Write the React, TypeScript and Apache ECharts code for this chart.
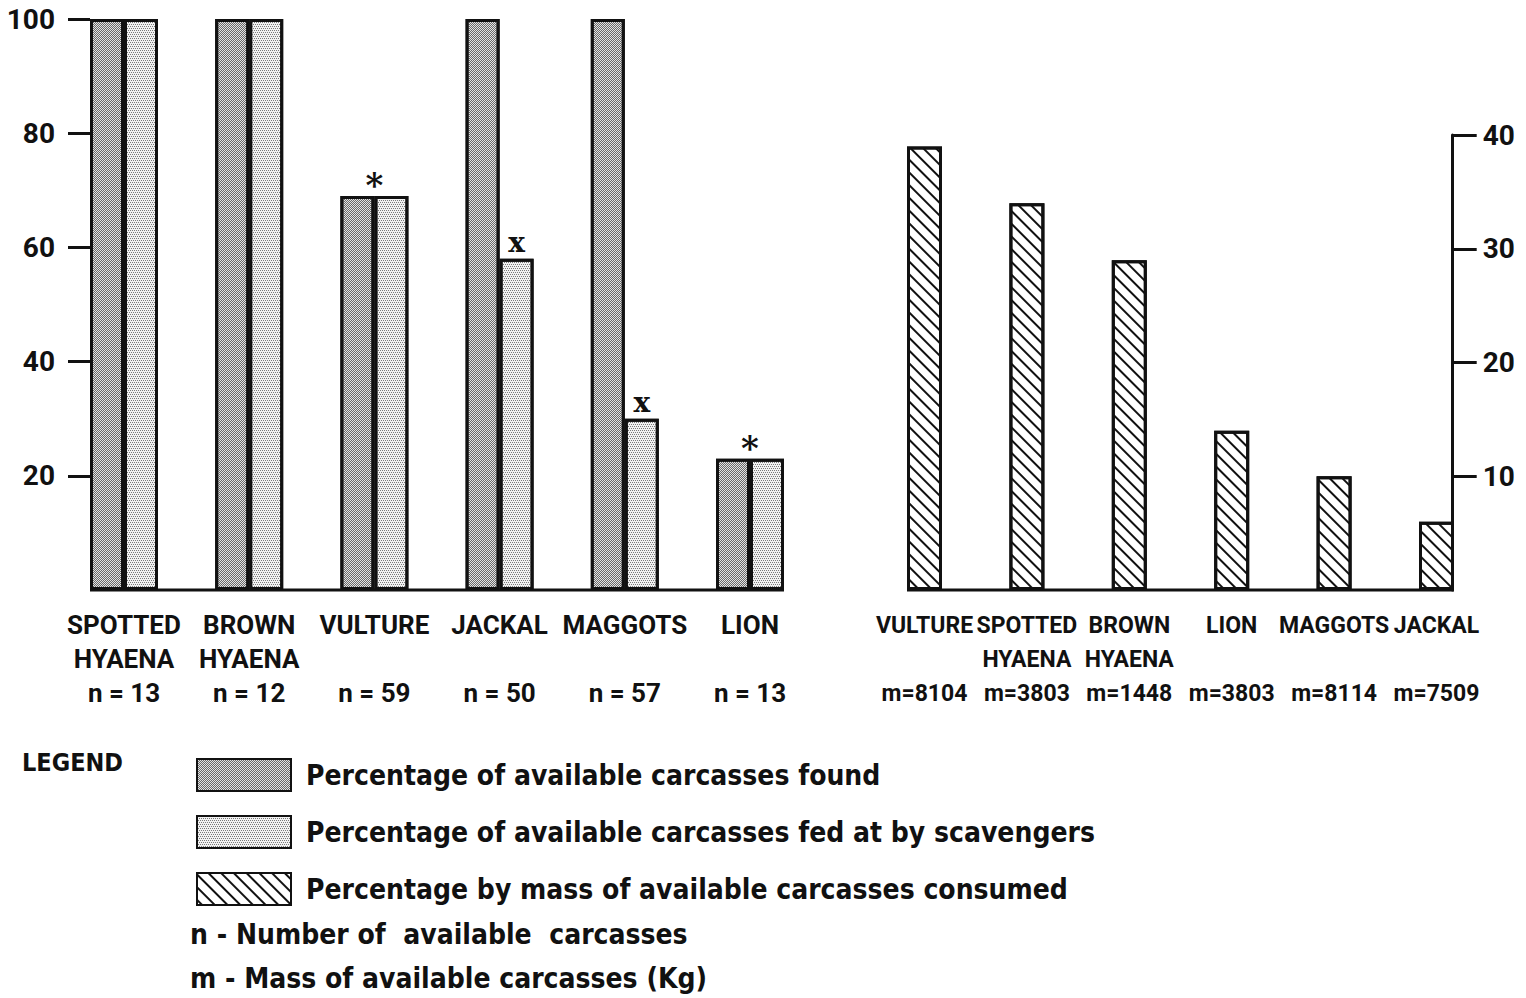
import React, { useEffect, useRef } from "react";
import * as echarts from "echarts";

// ---------- data ----------
const leftCategories = ["SPOTTED\nHYAENA", "BROWN\nHYAENA", "VULTURE", "JACKAL", "MAGGOTS", "LION"];
const leftN = [13, 12, 59, 50, 57, 13];
const foundPct = [100, 100, 69, 100, 100, 23];
const fedPct = [100, 100, 69, 58, 30, 23];
const fedMarks = ["", "", "*", "x", "x", "*"];

const rightCategories = ["VULTURE", "SPOTTED\nHYAENA", "BROWN\nHYAENA", "LION", "MAGGOTS", "JACKAL"];
const rightM = [8104, 3803, 1448, 3803, 8114, 7509];
const massPct = [39, 34, 29, 14, 10, 6];

const leftTicks = [20, 40, 60, 80, 100];
const rightTicks = [10, 20, 30, 40];

const seriesNames = [
  "Percentage of available carcasses found",
  "Percentage of available carcasses fed at by scavengers",
  "Percentage by mass of available carcasses consumed",
];
const noteLines = ["n - Number of  available  carcasses", "m - Mass of available carcasses (Kg)"];

// ---------- style ----------
const LABEL_FONT = "Roboto, 'DejaVu Sans Condensed', sans-serif";
const TEXT_FONT = "'DejaVu Sans Condensed', 'DejaVu Sans', sans-serif";
const INK = "#111";
const LEFT_BAR = 34;
const RIGHT_BAR = 35;

function baseline(gridIdx: number, count: number, half: number) {
  return {
    type: "custom",
    xAxisIndex: gridIdx,
    yAxisIndex: gridIdx,
    silent: true,
    z: 10,
    data: [[0, 0]],
    renderItem: (_p: any, api: any) => {
      const a = api.coord([0, 0]);
      const b = api.coord([count - 1, 0]);
      return {
        type: "line",
        shape: { x1: a[0] - half, y1: a[1], x2: b[0] + half, y2: b[1] },
        style: { stroke: INK, lineWidth: 3 },
      };
    },
  };
}

export default function App() {
  const ref = useRef<HTMLDivElement>(null);
  useEffect(() => {
    if (!ref.current) return;
    const chart = echarts.init(ref.current, undefined, { renderer: "svg" });
    const catLabel = {
      interval: 0,
      fontFamily: LABEL_FONT,
      fontWeight: "bold",
      lineHeight: 34,
      color: INK,
      margin: 18,
    };
    const valueLabel = {
      fontFamily: LABEL_FONT,
      fontWeight: "bold",
      fontSize: 28,
      color: INK,
    };
    const option: any = {
      animation: false,
      backgroundColor: "#fff",
      grid: [
        { left: 61.4, right: 713.4, top: 19, bottom: 408 },
        { left: 873.3, right: 38.3, top: 135, bottom: 408 },
      ],
      xAxis: [
        {
          type: "category",
          gridIndex: 0,
          data: leftCategories,
          axisLine: { show: false },
          axisTick: { show: false },
          axisLabel: {
            ...catLabel,
            fontSize: 26,
            formatter: (v: string, i: number) => {
              const [a, b] = v.split("\n");
              return `${a}\n${b || " "}\nn = ${leftN[i]}`;
            },
          },
        },
        {
          type: "category",
          gridIndex: 1,
          data: rightCategories,
          axisLine: { show: false },
          axisTick: { show: false },
          axisLabel: {
            ...catLabel,
            fontSize: 23,
            formatter: (v: string, i: number) => {
              const [a, b] = v.split("\n");
              return `${a}\n${b || " "}\nm=${rightM[i]}`;
            },
          },
        },
      ],
      yAxis: [
        {
          type: "value",
          gridIndex: 0,
          min: 0,
          max: 100,
          offset: -28.6,
          splitLine: { show: false },
          axisLine: { show: false },
          axisTick: { show: true, customValues: leftTicks, length: 22, lineStyle: { color: INK, width: 3 } },
          axisLabel: { ...valueLabel, customValues: leftTicks, margin: 35 },
        },
        {
          type: "value",
          gridIndex: 1,
          position: "right",
          min: 0,
          max: 40,
          offset: -35,
          splitLine: { show: false },
          axisLine: { show: true, lineStyle: { color: INK, width: 3 } },
          axisTick: { show: true, customValues: rightTicks, length: 24, lineStyle: { color: INK, width: 3 } },
          axisLabel: { ...valueLabel, customValues: rightTicks, margin: 30 },
        },
      ],
      legend: {
        orient: "vertical",
        left: 191,
        top: 753,
        icon: "rect",
        itemWidth: 94,
        itemHeight: 32,
        itemGap: 23,
        selectedMode: false,
        data: seriesNames,
        textStyle: {
          fontFamily: TEXT_FONT,
          fontWeight: "bold",
          fontSize: 28,
          color: INK,
          padding: [0, 0, 0, 10],
        },
      },
      graphic: [
        {
          type: "text",
          left: 22,
          top: 750,
          style: { text: "LEGEND", font: `bold 25px ${TEXT_FONT}`, fill: INK },
        },
        {
          type: "text",
          left: 190,
          top: 920,
          style: { text: noteLines[0], font: `bold 28px ${TEXT_FONT}`, fill: INK },
        },
        {
          type: "text",
          left: 190,
          top: 964,
          style: { text: noteLines[1], font: `bold 28px ${TEXT_FONT}`, fill: INK },
        },
      ],
      series: [
        {
          name: seriesNames[0],
          type: "bar",
          xAxisIndex: 0,
          yAxisIndex: 0,
          barWidth: LEFT_BAR,
          barGap: "0%",
          data: foundPct,
          itemStyle: {
            color: "#e4e4e4",
            borderColor: INK,
            borderWidth: 3,
            decal: {
              symbol: "rect",
              symbolSize: 1,
              color: "#6a6a6a",
              dashArrayX: [[1, 1], [0, 1, 1, 0]],
              dashArrayY: [1, 0],
            },
          },
        },
        {
          name: seriesNames[1],
          type: "bar",
          xAxisIndex: 0,
          yAxisIndex: 0,
          barWidth: LEFT_BAR,
          barGap: "0%",
          data: fedPct.map((v, i) => ({
            value: v,
            label:
              fedMarks[i] === "*"
                ? { offset: [-LEFT_BAR / 2, 10], fontSize: 34 }
                : { offset: [0, 2], fontSize: 28 },
          })),
          label: {
            show: true,
            position: "top",
            distance: 4,
            formatter: (p: any) => fedMarks[p.dataIndex],
            fontFamily: "'DejaVu Serif', 'Liberation Serif', serif",
            fontWeight: "bold",
            color: INK,
          },
          itemStyle: {
            color: "#f2f2f2",
            borderColor: INK,
            borderWidth: 3,
            decal: {
              symbol: "rect",
              symbolSize: 1,
              color: "#7a7a7a",
              dashArrayX: [[1, 1], [0, 1, 1, 0]],
              dashArrayY: [1, 1],
            },
          },
        },
        {
          name: seriesNames[2],
          type: "bar",
          xAxisIndex: 1,
          yAxisIndex: 1,
          barWidth: RIGHT_BAR,
          data: massPct,
          itemStyle: {
            color: "#ffffff",
            borderColor: INK,
            borderWidth: 3,
            decal: {
              symbol: "rect",
              symbolSize: 1,
              color: INK,
              dashArrayX: [1, 0],
              dashArrayY: [2, 7],
              rotation: Math.PI / 4,
            },
          },
        },
        baseline(0, leftCategories.length, LEFT_BAR),
        baseline(1, rightCategories.length, RIGHT_BAR / 2),
      ],
    };
    chart.setOption(option);
    return () => chart.dispose();
  }, []);
  return (
    <div
      ref={ref}
      style={{ position: "absolute", left: 0, top: 0, width: 1526, height: 998, background: "#fff" }}
    />
  );
}
